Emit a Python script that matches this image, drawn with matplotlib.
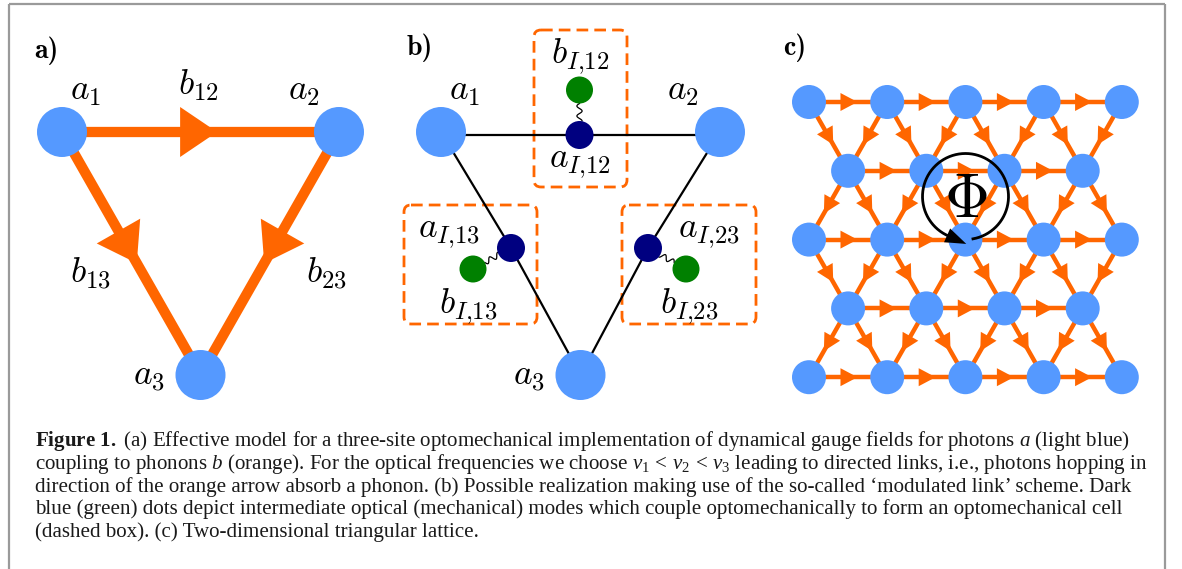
import numpy as np
import matplotlib
matplotlib.use("Agg")
import matplotlib.pyplot as plt
from matplotlib.patches import Circle, Polygon, FancyBboxPatch

plt.rcParams["font.family"] = ["Liberation Serif", "DejaVu Serif"]
plt.rcParams["mathtext.fontset"] = "cm"
plt.rcParams["mathtext.rm"] = "Liberation Serif"
plt.rcParams["mathtext.it"] = "Liberation Serif:italic"
plt.rcParams["mathtext.bf"] = "Liberation Serif:bold"

# ---------------------------------------------------------------- content
panel_tags = ["a)", "b)", "c)"]
site_labels = [r"$a_1$", r"$a_2$", r"$a_3$"]
links = [(0, 1), (0, 2), (1, 2)]                  # directed: photon hops i -> j
phonon_labels = [r"$b_{12}$", r"$b_{13}$", r"$b_{23}$"]
cavity_labels = [r"$a_{I{,}12}$", r"$a_{I{,}13}$", r"$a_{I{,}23}$"]
mech_labels = [r"$b_{I{,}12}$", r"$b_{I{,}13}$", r"$b_{I{,}23}$"]
lattice_row_counts = [5, 4, 5, 4, 5]
flux_label = r"$\Phi$"

caption_lines = [
    r"$\mathbf{Figure\ 1.}$ (a) Effective model for a three-site optomechanical implementation of dynamical gauge fields for photons $a$ (light blue)",
    r"coupling to phonons $b$ (orange). For the optical frequencies we choose $\nu_1\,<\,\nu_2\,<\,\nu_3$ leading to directed links, i.e., photons hopping in",
    "direction of the orange arrow absorb a phonon. (b) Possible realization making use of the so-called \u2018modulated link\u2019 scheme. Dark",
    "blue (green) dots depict intermediate optical (mechanical) modes which couple optomechanically to form an optomechanical cell",
    "(dashed box). (c) Two-dimensional triangular lattice.",
]

# ---------------------------------------------------------------- styling
LIGHT = "#5599ff"
ORANGE = "#ff6600"
NAVY = "#000080"
GREEN = "#008000"
FRAME = "#9a9a9a"
LABEL_SIZE = 25.5

W, H = 1182, 569
fig = plt.figure(figsize=(W / 100, H / 100), dpi=100)
ax = fig.add_axes([0, 0, 1, 1])
ax.set_xlim(0, W)
ax.set_ylim(H, 0)
ax.axis("off")


def triangle_sites(x_left, x_right, y_top, y_bottom):
    return np.array([[x_left, y_top], [x_right, y_top],
                     [(x_left + x_right) / 2, y_bottom]], float)


def arrow_head(p, q, tip_frac, length, width, color, z=3):
    p, q = np.asarray(p, float), np.asarray(q, float)
    u = (q - p) / np.hypot(*(q - p))
    n = np.array([-u[1], u[0]])
    tip = p + tip_frac * (q - p)
    base = tip - length * u
    ax.add_patch(Polygon([tip, base + n * width / 2, base - n * width / 2],
                         closed=True, facecolor=color, edgecolor="none", zorder=z))


def node(xy, r, color, z=5):
    ax.add_patch(Circle(xy, r, facecolor=color, edgecolor="none", zorder=z))


def label(x, y, s, size=LABEL_SIZE, **kw):
    ax.text(x, y, s, fontsize=size, ha="center", va="baseline",
            math_fontfamily="cm", zorder=8, **kw)


def tag(x, y, s):
    ax.text(x, y, s, fontsize=20, ha="left", va="baseline", family="cmb10")


def wiggle(p, q, rp, rq, amp=2.6, waves=1.75):
    p, q = np.asarray(p, float), np.asarray(q, float)
    L = np.hypot(*(q - p))
    u = (q - p) / L
    n = np.array([-u[1], u[0]])
    s = np.linspace(rp, L - rq, 100)
    w = amp * np.sin(2 * np.pi * waves * (s - rp) / (L - rp - rq))
    pts = p + np.outer(s, u) + np.outer(w, n)
    ax.plot(pts[:, 0], pts[:, 1], color="black", lw=0.9, zorder=4)


# ---------------------------------------------------------------- frame
ax.plot([8.5, 8.5], [H + 2, 3.5], color=FRAME, lw=1.6, solid_capstyle="butt")
ax.plot([8.5, 1165], [3.5, 3.5], color=FRAME, lw=1.6, solid_capstyle="butt")
ax.plot([1165, 1165], [3.5, H + 2], color=FRAME, lw=1.6, solid_capstyle="butt")

# ---------------------------------------------------------------- panel a
sites_a = triangle_sites(62, 339, 132, 375)
for i, j in links:
    ax.plot(*zip(sites_a[i], sites_a[j]), color=ORANGE, lw=7.4,
            solid_capstyle="butt", zorder=2)
    arrow_head(sites_a[i], sites_a[j], 0.56 if i == 0 and j == 1 else 0.54,
               37, 50, ORANGE)
for xy in sites_a:
    node(xy, 25, LIGHT)

tag(34, 58, panel_tags[0])
label(86, 100, site_labels[0])
label(304, 100, site_labels[1])
label(149, 385, site_labels[2])
label(198, 95, phonon_labels[0])
label(90, 283, phonon_labels[1])
label(326, 283, phonon_labels[2])

# ---------------------------------------------------------------- panel b
sites_b = triangle_sites(441, 720, 132, 375)
cavities = np.array([[579.5, 135], [511, 248], [648, 248]])
mechs = np.array([[579.5, 90], [473, 269], [686, 269]])

for k, (i, j) in enumerate(links):
    ax.plot([sites_b[i][0], cavities[k][0], sites_b[j][0]],
            [sites_b[i][1] + (3 if k == 0 else 0), cavities[k][1],
             sites_b[j][1] + (3 if k == 0 else 0)],
            color="black", lw=1.6, zorder=2)
    wiggle(mechs[k], cavities[k], 13.5, 14)
for xy in sites_b:
    node(xy, 25, LIGHT)
for xy in cavities:
    node(xy, 14, NAVY)
for xy in mechs:
    node(xy, 13.5, GREEN)

boxes = [(534, 30, 627, 187), (404, 205, 537, 324), (622, 205, 756, 324)]
for x0, y0, x1, y1 in boxes:
    ax.add_patch(FancyBboxPatch((x0, y0), x1 - x0, y1 - y0,
                                boxstyle="round,pad=0,rounding_size=7",
                                facecolor="none", edgecolor=ORANGE, lw=2.0,
                                linestyle=(0, (4.2, 2.2)), zorder=1))

tag(407, 55, panel_tags[1])
label(465, 100, site_labels[0])
label(683, 100, site_labels[1])
label(529, 385, site_labels[2])
label(580, 63, mech_labels[0])
label(580, 167, cavity_labels[0])
label(449, 237, cavity_labels[1])
label(468, 313, mech_labels[1])
label(709, 237, cavity_labels[2])
label(689, 313, mech_labels[2])

# ---------------------------------------------------------------- panel c
lat_x0, lat_y0, lat_dx, lat_dy = 809, 102, 78.2, 68.8
lattice = []
for r, n in enumerate(lattice_row_counts):
    off = 0 if n == max(lattice_row_counts) else lat_dx / 2
    lattice.append([(lat_x0 + off + i * lat_dx, lat_y0 + r * lat_dy)
                    for i in range(n)])

bonds = []
for r, row in enumerate(lattice):
    for i in range(len(row) - 1):
        bonds.append((row[i], row[i + 1]))
    if r + 1 < len(lattice):
        for p in row:
            for q in lattice[r + 1]:
                if abs(abs(q[0] - p[0]) - lat_dx / 2) < 1:
                    bonds.append((p, q))

for p, q in bonds:
    ax.plot(*zip(p, q), color=ORANGE, lw=3.2, solid_capstyle="butt", zorder=2)
    arrow_head(p, q, 0.62, 17, 18, ORANGE)
for row in lattice:
    for xy in row:
        node(xy, 17, LIGHT)

tag(783, 55, panel_tags[2])

# flux loop around one triangular plaquette
fc, fr = np.array([965.5, 196.5]), 43
th = np.radians(np.linspace(-80, 246, 300))
ax.plot(fc[0] + fr * np.cos(th), fc[1] - fr * np.sin(th), color="black",
        lw=2.0, zorder=9)
t_end = th[-1]
end = fc + fr * np.array([np.cos(t_end), -np.sin(t_end)])
tang = np.array([-np.sin(t_end), -np.cos(t_end)])
arrow_head(end - 2 * tang, end + 20 * tang, 1.0, 21, 15, "black", z=9)
ax.text(fc[0], fc[1] + 20, flux_label, fontsize=45, ha="center",
        va="baseline", math_fontfamily="cm", zorder=9)

# ---------------------------------------------------------------- caption
cap_x, cap_y0, cap_dy = 35, 446, 22.8
caps = []
for k, line in enumerate(caption_lines):
    caps.append(ax.text(cap_x, cap_y0 + k * cap_dy, line, fontsize=13.5,
                        ha="left", va="baseline", math_fontfamily="custom",
                        color="#1a1a1a"))
fig.canvas.draw()
r = fig.canvas.get_renderer()
w = caps[1].get_window_extent(r).width
size = 13.5 * (1148 - cap_x) / w
for t in caps:
    t.set_fontsize(size)

fig.savefig("out.png", dpi=100)
